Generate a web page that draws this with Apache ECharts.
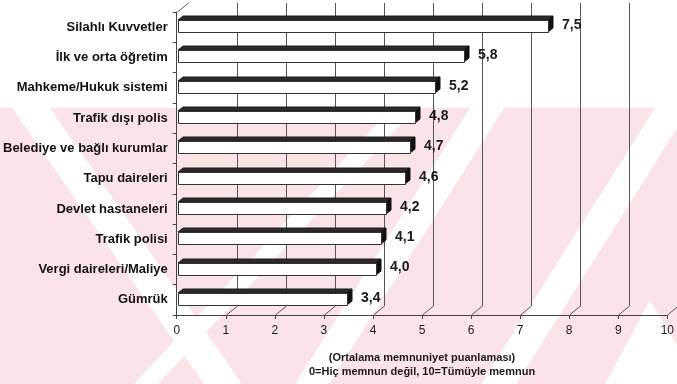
<!DOCTYPE html>
<html>
<head>
<meta charset="utf-8">
<script src="https://cdn.jsdelivr.net/npm/echarts@6/dist/echarts.min.js"></script>
<style>
  html, body { margin: 0; padding: 0; background: #ffffff; }
  #chart { width: 677px; height: 384px; }
</style>
</head>
<body>
<div id="chart"></div>
<script>
// Mean satisfaction score (0-10) per public institution
const categories = [
  'Silahlı Kuvvetler',
  'İlk ve orta öğretim',
  'Mahkeme/Hukuk sistemi',
  'Trafik dışı polis',
  'Belediye ve bağlı kurumlar',
  'Tapu daireleri',
  'Devlet hastaneleri',
  'Trafik polisi',
  'Vergi daireleri/Maliye',
  'Gümrük'
];
const scores = [7.5, 5.8, 5.2, 4.8, 4.7, 4.6, 4.2, 4.1, 4.0, 3.4];
const axisTicks = [0, 1, 2, 3, 4, 5, 6, 7, 8, 9, 10];
const axisNote = ['(Ortalama memnuniyet puanlaması)', '0=Hiç memnun değil, 10=Tümüyle memnun'];

const FONT = '"Liberation Sans", Arial, sans-serif';
const WALL = [11, -9];   // depth of the back wall
const DEPTH = [5, -4];   // depth of each bar

const fmt = v => v.toFixed(1).replace('.', ',');

// light diagonal background bands
const PINK = '#fbe4e8';
const bandShapes = [
  [[12, 108], [50, 108], [242, 384], [204, 384]],
  [[392, 108], [416, 108], [158, 384], [134, 384]],
  [[470, 108], [504, 108], [329, 384], [295, 384]],
  [[655, 108], [690, 108], [516, 384], [481, 384]],
  [[650, 300], [700, 384], [605, 384]]
];
const background = [
  { type: 'rect', z: -20, silent: true, shape: { x: 0, y: 108, width: 677, height: 276 }, style: { fill: PINK } }
].concat(bandShapes.map(pts => ({
  type: 'polygon', z: -19, silent: true, shape: { points: pts }, style: { fill: '#ffffff' }
})));

const chart = echarts.init(document.getElementById('chart'), null, { renderer: 'canvas' });

chart.setOption({
  animation: false,
  backgroundColor: '#ffffff',
  graphic: background,
  grid: { left: 176, right: 5, top: 12, bottom: 69, containLabel: false },
  xAxis: {
    type: 'value',
    min: 0, max: 10, interval: 1,
    axisLine: { show: true, lineStyle: { color: '#444', width: 1 } },
    axisTick: { show: true, length: 4, lineStyle: { color: '#444' } },
    axisLabel: { fontFamily: FONT, fontSize: 12, color: '#1a1a1a', margin: 10, showMaxLabel: true },
    splitLine: { show: false },
    name: axisNote.join('\n'),
    nameLocation: 'middle',
    nameGap: 36,
    nameTextStyle: { fontFamily: FONT, fontSize: 11, fontWeight: 'bold', color: '#1a1a1a', lineHeight: 14 }
  },
  yAxis: {
    type: 'category',
    data: categories,
    inverse: true,
    axisLine: { show: true, lineStyle: { color: '#444', width: 1 } },
    axisTick: { show: true, length: 4, lineStyle: { color: '#444' } },
    axisLabel: { fontFamily: FONT, fontSize: 13, fontWeight: 'bold', color: '#111', margin: 9 },
    splitLine: { show: false }
  },
  series: [
    {
      // back wall gridlines with their floor connectors
      type: 'custom',
      silent: true,
      z: 1,
      data: axisTicks.map(t => [t, 0]),
      encode: { x: 0, y: 1 },
      renderItem(params, api) {
        const cs = params.coordSys;
        const t = api.value(0);
        const x = Math.round(api.coord([t, 0])[0]) + 0.5;
        const top = cs.y, bottom = cs.y + cs.height;
        const style = { stroke: '#555', lineWidth: 1 };
        if (t === 0) {
          return { type: 'line', shape: { x1: x, y1: top, x2: x + WALL[0], y2: top + WALL[1] }, style };
        }
        return {
          type: 'group',
          children: [
            { type: 'line', shape: { x1: x + WALL[0], y1: top + WALL[1], x2: x + WALL[0], y2: bottom + WALL[1] }, style },
            { type: 'line', shape: { x1: x + WALL[0], y1: bottom + WALL[1], x2: x, y2: bottom }, style }
          ]
        };
      }
    },
    {
      // 3D-style bars: white front, dark top and end faces
      type: 'custom',
      z: 3,
      data: scores.map((v, i) => [v, i]),
      encode: { x: 0, y: 1 },
      renderItem(params, api) {
        const v = api.value(0), idx = api.value(1);
        const p0 = api.coord([0, idx]);
        const p1 = api.coord([v, idx]);
        const cy = p1[1] - 1;
        const xl = Math.round(p0[0]) + 1;
        const xr = Math.round(p1[0]) + 3;
        const yt = Math.round(cy - 6);
        const yb = yt + 12;
        const dx = DEPTH[0], dy = DEPTH[1];
        return {
          type: 'group',
          children: [
            { type: 'polygon', shape: { points: [[xl, yt], [xl + dx, yt + dy], [xr + dx, yt + dy], [xr, yt]] },
              style: { fill: '#2a2a2a', stroke: '#1e1e1e', lineWidth: 1 } },
            { type: 'polygon', shape: { points: [[xr, yt], [xr + dx, yt + dy], [xr + dx, yb + dy], [xr, yb]] },
              style: { fill: '#111', stroke: '#111', lineWidth: 1 } },
            { type: 'rect', shape: { x: xl + 0.5, y: yt + 0.5, width: xr - xl, height: yb - yt },
              style: { fill: '#ffffff', stroke: '#333', lineWidth: 1 } },
            { type: 'text', style: { text: fmt(v), x: xr + dx + 9, y: cy - 1, verticalAlign: 'middle',
              font: 'bold 14px ' + FONT, fill: '#1a1a1a' } }
          ]
        };
      }
    }
  ]
});
</script>
</body>
</html>
